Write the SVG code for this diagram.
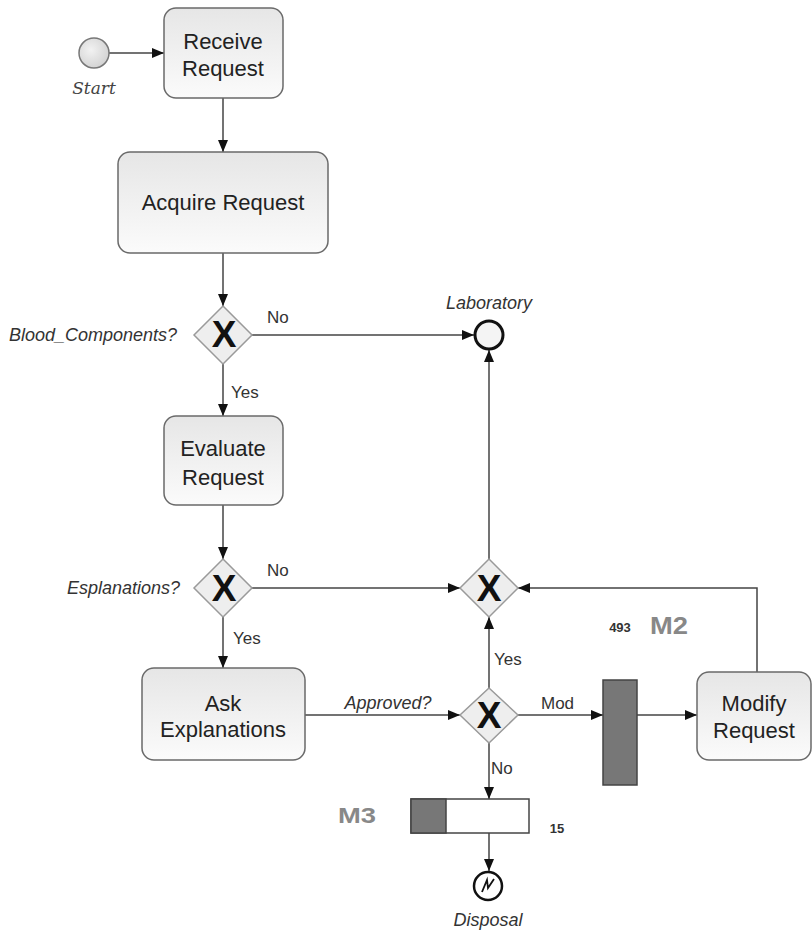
<svg xmlns="http://www.w3.org/2000/svg" width="812" height="932" viewBox="0 0 812 932">
<style>
.task{fill:url(#tg);stroke:#6a6a6a;stroke-width:1.5}
.tt{font-family:"Liberation Sans",Arial,sans-serif;font-size:22px;fill:#222;text-anchor:middle}
.gw{fill:#eeeeee;stroke:#9a9a9a;stroke-width:1.5}
.gx{font-family:"Liberation Sans",Arial,sans-serif;font-size:37px;font-weight:bold;fill:#111;text-anchor:middle}
.lbl{font-family:"Liberation Sans",Arial,sans-serif;font-size:17px;fill:#333}
.it{font-family:"Liberation Sans",Arial,sans-serif;font-size:18px;font-style:italic;fill:#333}
.edge{fill:none;stroke:#444;stroke-width:1.5;marker-end:url(#ah)}
.big{font-family:"Liberation Sans",Arial,sans-serif;font-weight:bold;fill:#888}
.num{font-family:"Liberation Sans",Arial,sans-serif;font-size:13px;font-weight:bold;fill:#333}
</style>
<defs>
<linearGradient id="tg" x1="0" y1="0" x2="0" y2="1">
<stop offset="0" stop-color="#e6e6e6"/><stop offset="1" stop-color="#fbfbfb"/>
</linearGradient>
<radialGradient id="cg" cx="0.4" cy="0.4" r="0.7">
<stop offset="0" stop-color="#f2f2f2"/><stop offset="1" stop-color="#cfcfcf"/>
</radialGradient>
<marker id="ah" viewBox="0 0 12 10" refX="12" refY="5" markerWidth="12" markerHeight="10" markerUnits="userSpaceOnUse" orient="auto">
<path d="M0,0 L12,5 L0,10 z" fill="#111"/>
</marker>
</defs>

<g id="connectors">
<path class="edge" d="M109,53 H164"/>
<path class="edge" d="M223,98 V152"/>
<path class="edge" d="M223,253 V306"/>
<path class="edge" d="M252,335 H474"/>
<path class="edge" d="M223,364 V416"/>
<path class="edge" d="M223,505 V559"/>
<path class="edge" d="M252,588 H460"/>
<path class="edge" d="M223,617 V668"/>
<path class="edge" d="M305,715 H460"/>
<path class="edge" d="M489,688 V617"/>
<path class="edge" d="M489,559 V350"/>
<path class="edge" d="M518,715 H603"/>
<path class="edge" d="M637,715 H697"/>
<path class="edge" d="M757,672 V588 H518"/>
<path class="edge" d="M489,743 V799"/>
<path class="edge" d="M489,833 V871"/>
<text class="lbl" x="267" y="323">No</text>
<text class="lbl" x="231" y="398">Yes</text>
<text class="lbl" x="267" y="576">No</text>
<text class="lbl" x="233" y="644">Yes</text>
<text class="it" x="388" y="709" text-anchor="middle">Approved?</text>
<text class="lbl" x="494" y="665">Yes</text>
<text class="lbl" x="541" y="709">Mod</text>
<text class="lbl" x="491" y="774">No</text>
</g>

<g id="start">
<circle cx="94" cy="53" r="15" fill="url(#cg)" stroke="#777" stroke-width="1.5"/>
<text x="94" y="94" font-family="'DejaVu Serif','Liberation Serif',serif" font-style="italic" font-size="17" fill="#444" text-anchor="middle">Start</text>
</g>

<g id="receive">
<rect class="task" x="164" y="8" width="119" height="90" rx="12"/>
<text class="tt" x="223" y="49">Receive</text>
<text class="tt" x="223" y="76">Request</text>
</g>

<g id="acquire">
<rect class="task" x="118" y="152" width="210" height="101" rx="12"/>
<text class="tt" x="223" y="210">Acquire Request</text>
</g>

<g id="gw1">
<path class="gw" d="M223,306 L252,335 L223,364 L194,335 z"/>
<text class="gx" x="224" y="347">X</text>
<text class="it" x="177" y="341" text-anchor="end">Blood_Components?</text>
</g>

<g id="laboratory">
<circle cx="489" cy="335" r="14" fill="#f4f4f4" stroke="#111" stroke-width="3"/>
<text class="it" x="489" y="309" text-anchor="middle">Laboratory</text>
</g>

<g id="evaluate">
<rect class="task" x="164" y="416" width="119" height="89" rx="12"/>
<text class="tt" x="223" y="456">Evaluate</text>
<text class="tt" x="223" y="485">Request</text>
</g>

<g id="gw2">
<path class="gw" d="M223,559 L252,588 L223,617 L194,588 z"/>
<text class="gx" x="224" y="601">X</text>
<text class="it" x="180" y="594" text-anchor="end">Esplanations?</text>
</g>

<g id="ask">
<rect class="task" x="142" y="668" width="163" height="92" rx="12"/>
<text class="tt" x="223" y="711">Ask</text>
<text class="tt" x="223" y="737">Explanations</text>
</g>

<g id="gw3">
<path class="gw" d="M489,559 L518,588 L489,617 L460,588 z"/>
<text class="gx" x="489" y="601">X</text>
</g>

<g id="gw4">
<path class="gw" d="M489,688 L518,715 L489,743 L460,715 z"/>
<text class="gx" x="489" y="728">X</text>
</g>

<g id="m2">
<rect x="603" y="680" width="34" height="105" fill="#777" stroke="#444" stroke-width="1.5"/>
<text class="num" x="620" y="632" text-anchor="middle">493</text>
<text class="big" x="650" y="634" font-size="23" textLength="38" lengthAdjust="spacingAndGlyphs">M2</text>
</g>

<g id="modify">
<rect class="task" x="697" y="672" width="114" height="88" rx="12"/>
<text class="tt" x="754" y="711">Modify</text>
<text class="tt" x="754" y="738">Request</text>
</g>

<g id="m3">
<rect x="411" y="799" width="118" height="34" fill="#fff" stroke="#444" stroke-width="1.5"/>
<rect x="411" y="799" width="35" height="34" fill="#777" stroke="#444" stroke-width="1.5"/>
<text class="big" x="338" y="823" font-size="22" textLength="38" lengthAdjust="spacingAndGlyphs">M3</text>
<text class="num" x="557" y="833" text-anchor="middle">15</text>
</g>

<g id="disposal">
<circle cx="488" cy="886" r="14" fill="#fff" stroke="#111" stroke-width="2.5"/>
<path d="M482,892 L487,880 L488,888 L494,879" fill="none" stroke="#111" stroke-width="1.8"/>
<text class="it" x="488" y="926" text-anchor="middle">Disposal</text>
</g>
</svg>
